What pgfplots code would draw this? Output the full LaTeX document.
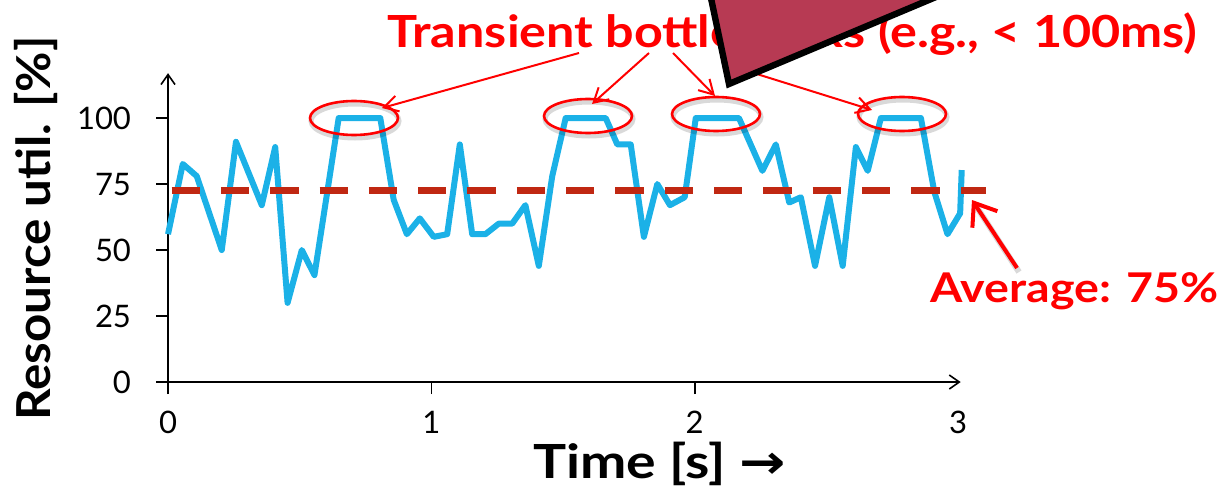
\documentclass[border=0pt]{standalone}
\usepackage{fontspec}
\setmainfont{Lato}
\newfontfamily\dejavu{DejaVu Sans}
\usepackage{pgfplots}
\pgfplotsset{compat=1.18}
\usetikzlibrary{arrows.meta}
\definecolor{lineblue}{RGB}{27,177,231}
\definecolor{avgred}{RGB}{192,40,18}
\definecolor{annred}{RGB}{255,0,0}
\definecolor{boxred}{RGB}{183,58,83}
\begin{document}
\begin{tikzpicture}
\begin{scope}[x=0.5pt,y=-0.5pt]
\path[use as bounding box] (0,0) rectangle (1225,492);
\end{scope}
\begin{axis}[
  at={(78.75pt,-196.3pt)}, anchor=south west,
  x=131.667pt, y=1.32pt,
  xmin=-0.04, xmax=3.01, ymin=-4, ymax=117,
  axis lines=middle,
  axis line style={line width=0.8pt, -{Straight Barb[length=5pt,width=7pt]}},
  hide obscured x ticks=false, hide obscured y ticks=false,
  xtick={0,1,2}, ytick={0,25,50,75,100},
  extra x ticks={3}, extra x tick style={tick style={draw=none}},
  tick align=outside, major tick length=6pt,
  tick style={line width=0.8pt, black},
  tick label style={font=\fontsize{15.5}{18}\selectfont},
  xticklabel style={anchor=north, yshift=-5pt},
  yticklabel style={xshift=-9pt},
  /pgf/number format/assume math mode=true,
  clip=false,
]
\addplot[lineblue, line width=3pt, line join=round] coordinates {
(0.0,56) (0.056,82.6) (0.109,78) (0.204,50) (0.258,91) (0.356,67) (0.407,89)
(0.454,30) (0.508,50) (0.556,40.5) (0.648,100) (0.806,100) (0.857,69) (0.907,56)
(0.956,62) (1.009,55) (1.06,56) (1.108,90) (1.155,56) (1.205,56) (1.256,60)
(1.307,60) (1.357,67) (1.408,44) (1.459,78) (1.51,100) (1.662,100) (1.706,90)
(1.757,90) (1.807,55) (1.858,75) (1.906,67) (1.962,70) (2.004,100) (2.168,100)
(2.257,80) (2.308,90) (2.359,68) (2.403,70) (2.457,44) (2.511,70) (2.562,44)
(2.612,89) (2.657,80) (2.707,100) (2.859,100) (2.91,72) (2.96,56) (3.008,63.9)
(3.014,80.3)
};
\addplot[avgred, line width=3.6pt, dash pattern=on 14.15pt off 10.5pt] coordinates {(0.0139,72.5) (3.107,72.5)};
\end{axis}
\begin{scope}[x=0.5pt,y=-0.5pt]
\clip (0,0) rectangle (1225,492);
\foreach \cx/\cy in {354/118, 588/116, 716/114, 902/114} {
  \draw[black, opacity=0.15, line width=2.5pt] (\cx+1,\cy+3) ellipse [x radius=44, y radius=17];
  \draw[annred, line width=1.3pt] (\cx,\cy) ellipse [x radius=44, y radius=17];
}
\begin{scope}[annred, line width=1pt, -{Straight Barb[length=7pt,width=8pt]}]
\draw (579,53) -- (382,108);
\draw (649,53) -- (592,104);
\draw (673,53) -- (715,96);
\draw (728,65) -- (872,110);
\end{scope}
\node[anchor=base west, inner sep=0] at (387,48) {\scalebox{1}[0.88]{\resizebox{405pt}{!}{\fontsize{22}{26}\selectfont\color{annred}\bfseries Transient bottlenecks (e.g., < 100ms)}}};
\node[anchor=base west, inner sep=0] at (930,302) {\scalebox{1}[0.88]{\resizebox{144pt}{!}{\fontsize{22}{26}\selectfont\color{annred}\bfseries Average: 75\%}}};
\draw[black, opacity=0.15, line width=3pt] (1019,272) -- (976,206);
\draw[annred, line width=2pt, -{Straight Barb[length=10pt,width=15pt]}] (1017,268) -- (972,200);
\node[anchor=base west, rotate=90, inner sep=0] at (50,421) {\scalebox{1}[0.95]{\resizebox{192pt}{!}{\fontsize{24}{28}\selectfont\bfseries Resource util. [\%]}}};
\node[anchor=base west, inner sep=0] at (533,478) {\scalebox{1}[0.85]{\resizebox{126pt}{!}{\fontsize{22}{26}\selectfont\bfseries Time [s] {\dejavu\bfseries →}}}};
\fill[boxred] (703,-40) -- (729,84) -- (1024,-40) -- cycle;
\draw[black, line width=3.2pt, line join=miter] (703,-40) -- (729,84) -- (1024,-40);
\end{scope}
\end{tikzpicture}
\end{document}
